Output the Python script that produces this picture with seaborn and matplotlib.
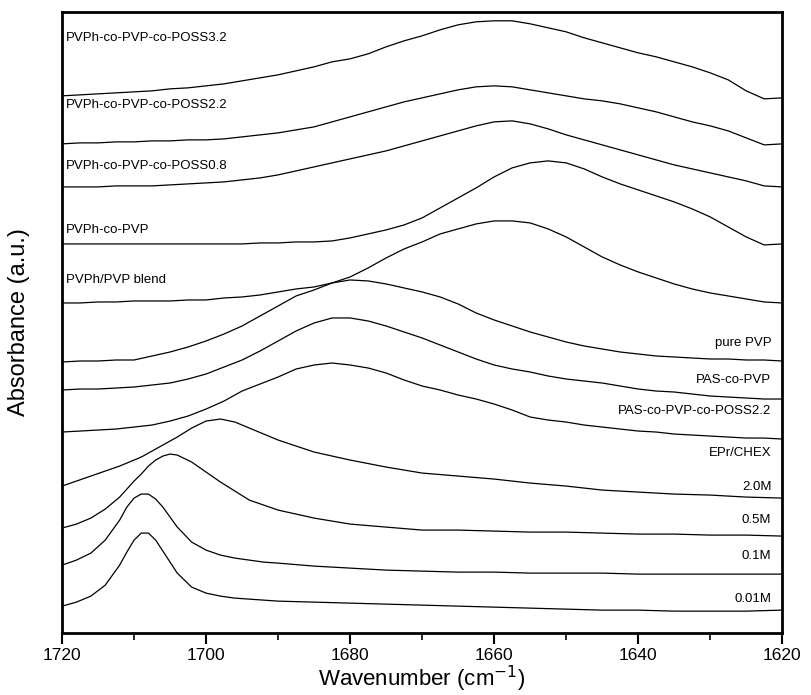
import seaborn as sns
import matplotlib.pyplot as plt
import pandas as pd
from matplotlib.ticker import MultipleLocator

# wavenumber grids (cm-1)
wn_broad = [1720, 1717.5, 1715, 1712.5, 1710, 1707.5, 1705, 1702.5, 1700, 1697.5,
            1695, 1692.5, 1690, 1687.5, 1685, 1682.5, 1680, 1677.5, 1675, 1672.5,
            1670, 1667.5, 1665, 1662.5, 1660, 1657.5, 1655, 1652.5, 1650, 1647.5,
            1645, 1642.5, 1640, 1637.5, 1635, 1632.5, 1630, 1627.5, 1625, 1622.5, 1620]
wn_fine = [1720, 1718, 1716, 1714, 1712, 1711, 1710, 1709, 1708, 1707, 1706,
           1705, 1704, 1702, 1700, 1698, 1696, 1694, 1692, 1690, 1685, 1680,
           1675, 1670, 1665, 1660, 1655, 1650, 1645, 1640, 1635, 1630, 1625, 1620]

# stacked absorbance (a.u.)
poss32 = [5.37, 5.38, 5.39, 5.40, 5.41, 5.42, 5.44, 5.45, 5.47, 5.49, 5.52, 5.55,
          5.58, 5.62, 5.66, 5.71, 5.74, 5.79, 5.86, 5.92, 5.97, 6.03, 6.08, 6.11,
          6.12, 6.12, 6.09, 6.05, 6.01, 5.95, 5.90, 5.85, 5.80, 5.76, 5.71, 5.66,
          5.60, 5.53, 5.42, 5.34, 5.35]
poss22 = [4.89, 4.90, 4.90, 4.91, 4.91, 4.92, 4.92, 4.93, 4.93, 4.94, 4.96, 4.98,
          5.00, 5.03, 5.06, 5.11, 5.16, 5.21, 5.26, 5.31, 5.35, 5.39, 5.43, 5.46,
          5.47, 5.46, 5.43, 5.40, 5.37, 5.34, 5.32, 5.29, 5.25, 5.21, 5.16, 5.11,
          5.07, 5.02, 4.95, 4.88, 4.89]
poss08 = [4.46, 4.46, 4.46, 4.47, 4.47, 4.47, 4.48, 4.49, 4.50, 4.51, 4.53, 4.55,
          4.58, 4.62, 4.66, 4.70, 4.74, 4.78, 4.82, 4.87, 4.92, 4.97, 5.02, 5.07,
          5.11, 5.12, 5.09, 5.04, 4.98, 4.93, 4.88, 4.83, 4.78, 4.73, 4.68, 4.64,
          4.60, 4.56, 4.52, 4.47, 4.46]
pvph_pvp = [3.89, 3.89, 3.89, 3.89, 3.89, 3.89, 3.89, 3.89, 3.89, 3.89, 3.89, 3.90,
            3.90, 3.91, 3.91, 3.92, 3.95, 3.99, 4.03, 4.08, 4.15, 4.25, 4.35, 4.45,
            4.56, 4.65, 4.70, 4.72, 4.70, 4.64, 4.56, 4.49, 4.43, 4.37, 4.31, 4.24,
            4.16, 4.06, 3.96, 3.88, 3.89]
blend = [3.30, 3.30, 3.31, 3.31, 3.32, 3.32, 3.32, 3.33, 3.33, 3.35, 3.36, 3.38,
         3.41, 3.44, 3.46, 3.50, 3.56, 3.65, 3.75, 3.84, 3.91, 3.99, 4.04, 4.09,
         4.12, 4.12, 4.10, 4.04, 3.96, 3.86, 3.76, 3.68, 3.61, 3.55, 3.49, 3.44,
         3.40, 3.37, 3.34, 3.31, 3.30]
pure_pvp = [2.71, 2.72, 2.72, 2.73, 2.73, 2.77, 2.81, 2.86, 2.92, 2.99, 3.07, 3.17,
            3.27, 3.37, 3.43, 3.50, 3.53, 3.52, 3.49, 3.45, 3.41, 3.36, 3.29, 3.20,
            3.13, 3.07, 3.01, 2.96, 2.91, 2.87, 2.84, 2.81, 2.79, 2.77, 2.76, 2.75,
            2.74, 2.74, 2.73, 2.73, 2.72]
pas_pvp = [2.43, 2.44, 2.44, 2.45, 2.46, 2.48, 2.50, 2.54, 2.59, 2.66, 2.73, 2.82,
           2.92, 3.02, 3.10, 3.15, 3.15, 3.12, 3.07, 3.01, 2.95, 2.88, 2.81, 2.74,
           2.68, 2.64, 2.61, 2.57, 2.54, 2.52, 2.50, 2.47, 2.44, 2.42, 2.41, 2.39,
           2.37, 2.36, 2.35, 2.34, 2.34]
pas_poss = [2.01, 2.02, 2.03, 2.04, 2.06, 2.08, 2.12, 2.17, 2.24, 2.32, 2.42, 2.49,
            2.56, 2.64, 2.68, 2.70, 2.68, 2.65, 2.60, 2.53, 2.47, 2.43, 2.38, 2.34,
            2.29, 2.23, 2.16, 2.13, 2.11, 2.08, 2.06, 2.04, 2.02, 2.01, 1.99, 1.98,
            1.97, 1.96, 1.95, 1.95, 1.94]

m20 = [1.47, 1.52, 1.57, 1.62, 1.67, 1.70, 1.73, 1.76, 1.80, 1.84, 1.88, 1.92,
       1.96, 2.05, 2.12, 2.14, 2.11, 2.05, 1.99, 1.93, 1.81, 1.73, 1.66, 1.60,
       1.57, 1.54, 1.50, 1.47, 1.43, 1.41, 1.39, 1.38, 1.36, 1.35]
m05 = [1.05, 1.09, 1.15, 1.24, 1.36, 1.44, 1.52, 1.59, 1.67, 1.73, 1.77, 1.79,
       1.78, 1.71, 1.61, 1.51, 1.42, 1.33, 1.28, 1.23, 1.15, 1.09, 1.06, 1.03,
       1.03, 1.02, 1.01, 1.01, 1.00, 0.99, 0.99, 0.98, 0.98, 0.97]
m01 = [0.68, 0.73, 0.80, 0.93, 1.13, 1.26, 1.35, 1.39, 1.39, 1.34, 1.26, 1.16,
       1.06, 0.91, 0.83, 0.78, 0.75, 0.73, 0.71, 0.70, 0.67, 0.65, 0.63, 0.62,
       0.61, 0.61, 0.60, 0.60, 0.60, 0.59, 0.59, 0.59, 0.59, 0.59]
m001 = [0.27, 0.31, 0.37, 0.48, 0.68, 0.81, 0.93, 1.00, 1.00, 0.93, 0.82, 0.71,
        0.60, 0.46, 0.40, 0.37, 0.35, 0.34, 0.33, 0.32, 0.31, 0.30, 0.29, 0.28,
        0.27, 0.26, 0.25, 0.24, 0.23, 0.23, 0.22, 0.22, 0.22, 0.23]

broad_series = {"PVPh-co-PVP-co-POSS3.2": poss32, "PVPh-co-PVP-co-POSS2.2": poss22,
                "PVPh-co-PVP-co-POSS0.8": poss08, "PVPh-co-PVP": pvph_pvp,
                "PVPh/PVP blend": blend, "pure PVP": pure_pvp,
                "PAS-co-PVP": pas_pvp, "PAS-co-PVP-co-POSS2.2": pas_poss}
fine_series = {"2.0M": m20, "0.5M": m05, "0.1M": m01, "0.01M": m001}

# curve labels and their absorbance level
left_labels = ["PVPh-co-PVP-co-POSS3.2", "PVPh-co-PVP-co-POSS2.2",
               "PVPh-co-PVP-co-POSS0.8", "PVPh-co-PVP", "PVPh/PVP blend"]
left_label_y = [5.95, 5.28, 4.67, 4.03, 3.53]
right_labels = ["pure PVP", "PAS-co-PVP", "PAS-co-PVP-co-POSS2.2", "EPr/CHEX",
                "2.0M", "0.5M", "0.1M", "0.01M"]
right_label_y = [2.90, 2.53, 2.22, 1.80, 1.46, 1.13, 0.77, 0.34]

rows = []
for name, vals in broad_series.items():
    rows += [(name, w, a) for w, a in zip(wn_broad, vals)]
for name, vals in fine_series.items():
    rows += [(name, w, a) for w, a in zip(wn_fine, vals)]
df = pd.DataFrame(rows, columns=["sample", "wavenumber", "absorbance"])

sns.set_style("ticks")
plt.rcParams["font.family"] = ["Liberation Sans", "DejaVu Sans"]
plt.rcParams["text.color"] = "black"
plt.rcParams["axes.labelcolor"] = "black"
plt.rcParams["xtick.color"] = "black"
plt.rcParams["xtick.labelcolor"] = "black"

fig = plt.figure(figsize=(8.11, 6.95), dpi=100)
ax = fig.add_axes([0.0765, 0.089, 0.888, 0.894])

sns.lineplot(data=df, x="wavenumber", y="absorbance", units="sample",
             estimator=None, color="black", linewidth=0.9, ax=ax)

ax.set_xlim(1720, 1620)
ax.set_ylim(0, 6.21)
ax.set_yticks([])
ax.xaxis.set_major_locator(MultipleLocator(20))
ax.xaxis.set_minor_locator(MultipleLocator(10))
ax.tick_params(axis="x", which="major", direction="out", length=8, width=1.5,
               labelsize=12.5, pad=3, color="black", labelcolor="black")
ax.tick_params(axis="x", which="minor", direction="out", length=5, width=1.2,
               color="black")
for s in ax.spines.values():
    s.set_linewidth(2)
    s.set_color("black")
    s.set_visible(True)

ax.set_xlabel("Wavenumber (cm$^{-1}$)", fontsize=16, labelpad=0, color="black")
ax.set_ylabel("Absorbance (a.u.)", fontsize=17, color="black")
ax.yaxis.set_label_coords(-0.045, 0.5)

for txt, y in zip(left_labels, left_label_y):
    ax.text(1719.5, y, txt, fontsize=9.5, ha="left", va="center", color="black")
for txt, y in zip(right_labels, right_label_y):
    ax.text(1621.5, y, txt, fontsize=9.5, ha="right", va="center", color="black")

plt.savefig("out.png", dpi=100)
plt.close()
